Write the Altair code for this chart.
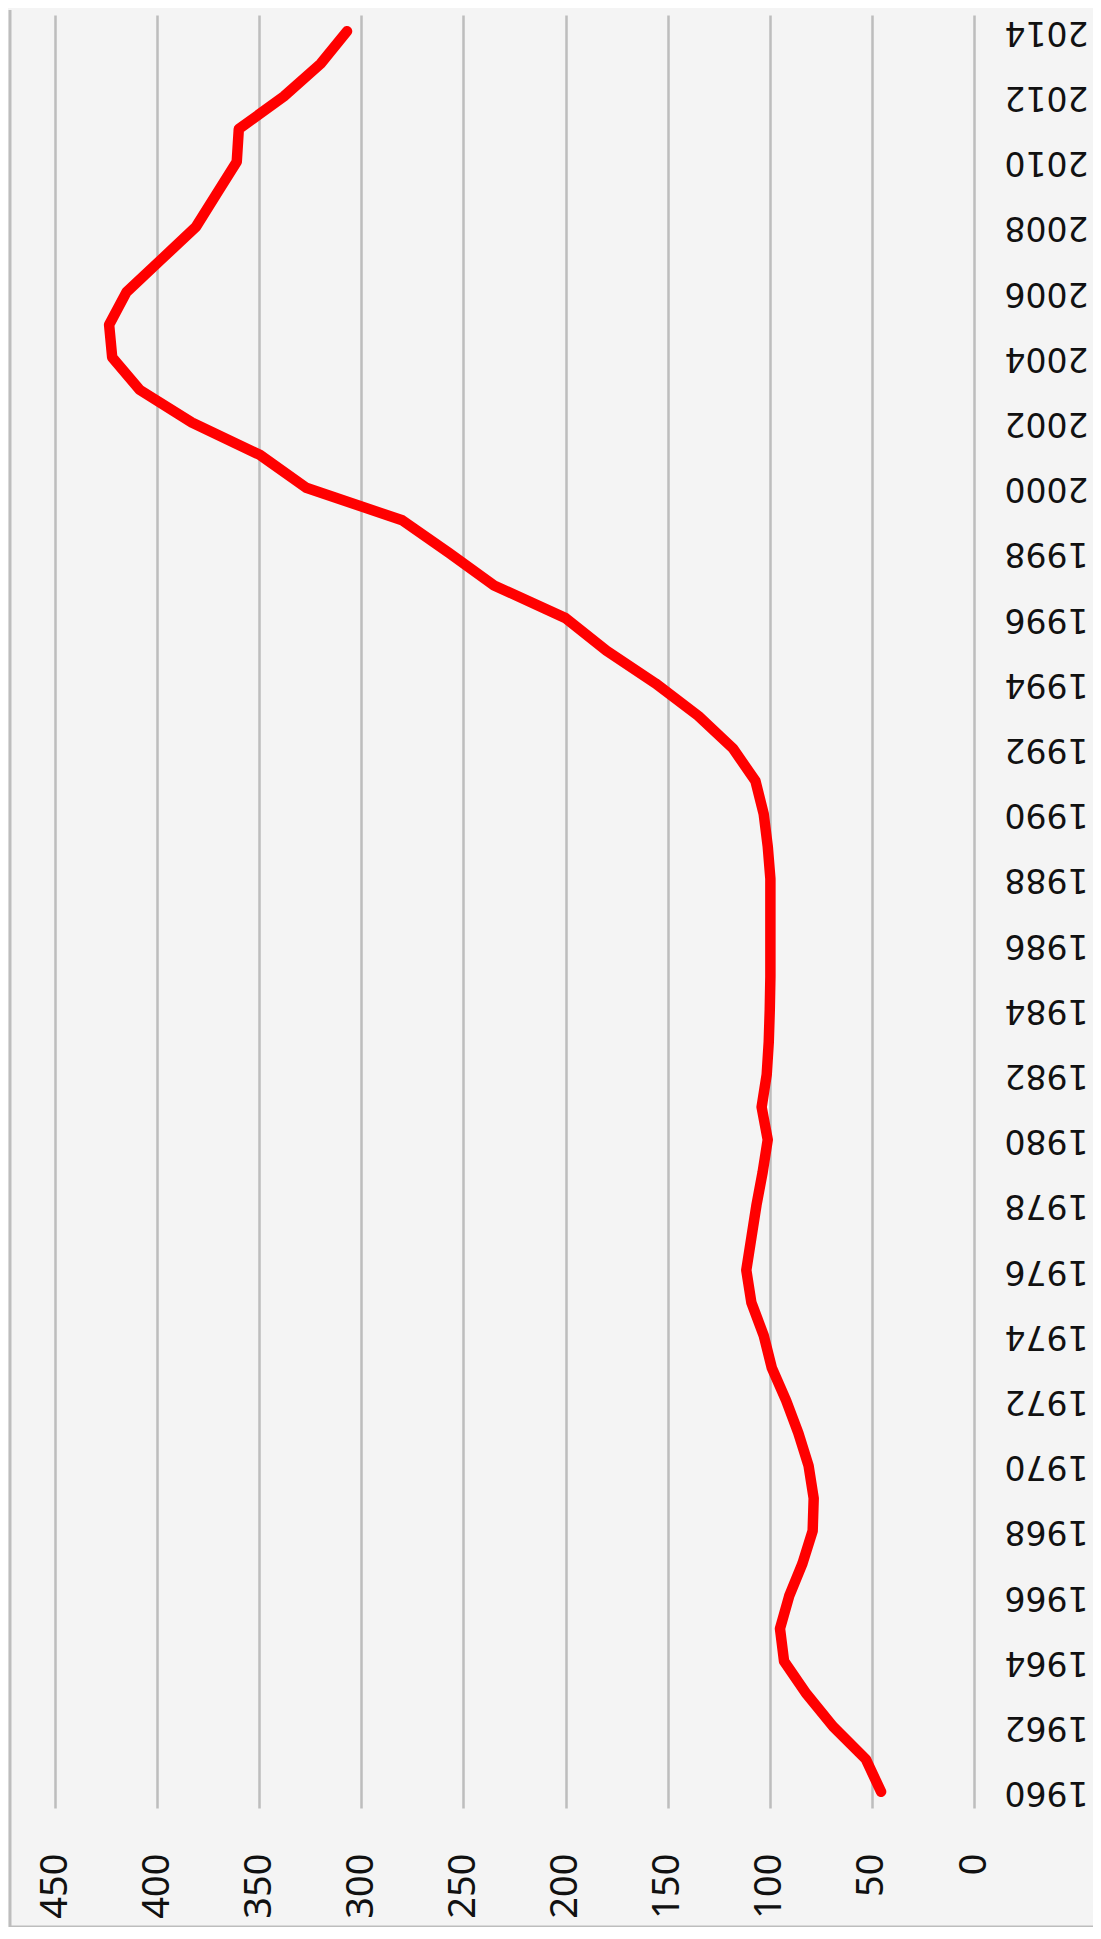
import altair as alt
import pandas as pd

years = list(range(1960, 2015))
values = [
    45.5, 53, 69, 82, 93, 95, 90.5, 84, 79, 78.5,
    81, 86, 92, 99, 103, 109, 111.5, 109, 106.5, 103.5,
    101, 104, 101.5, 100.5, 100, 99.7, 99.7, 99.7, 99.7, 101,
    103, 107, 118, 135, 156, 180, 200, 235, 257, 280,
    327, 349.5, 383, 408.5, 422, 423.5, 415, 398, 381, 371,
    361, 360, 338, 320, 307,
]
value_ticks = list(range(0, 451, 50))
year_ticks = list(range(1960, 2015, 2))

df = pd.DataFrame({"year": years, "value": values})

line = alt.Chart(df).mark_line(
    color="#ff0000", strokeWidth=10.5, strokeCap="round", strokeJoin="round"
).encode(
    x=alt.X(
        "value:Q",
        scale=alt.Scale(domain=[0, 450], reverse=True, nice=False),
        axis=alt.Axis(
            values=value_ticks, grid=True, gridColor="#bdbdbd", gridWidth=2.5,
            domain=False, ticks=False, labelAngle=270, labelAlign="right",
            labelBaseline="middle", labelPadding=45, labelFont="Noto Sans",
            labelFontSize=38, labelColor="#111111", title=None,
            labelFlush=False, labelOverlap=False,
        ),
    ),
    y=alt.Y(
        "year:Q",
        scale=alt.Scale(domain=[1959.5, 2014.5], nice=False, zero=False),
        axis=alt.Axis(
            orient="right", values=year_ticks, format="d", grid=False,
            domain=False, ticks=False, labelAngle=180, labelAlign="right",
            labelBaseline="middle", labelPadding=30, labelFont="DejaVu Sans",
            labelFontSize=33, labelColor="#111111", title=None,
            labelFlush=False, labelOverlap=False,
        ),
    ),
    order="year:Q",
)

border_df = pd.DataFrame({"a": [0]})
left_border = alt.Chart(border_df).mark_rule(color="#bdbdbd", strokeWidth=3).encode(
    x=alt.value(-45), y=alt.value(-5), y2=alt.value(1912)
)
bottom_border = alt.Chart(border_df).mark_rule(color="#bdbdbd", strokeWidth=3).encode(
    x=alt.value(-45), x2=alt.value(1046), y=alt.value(1912)
)

chart = alt.layer(left_border, bottom_border, line).properties(
    width=919,
    height=1793,
    autosize=alt.AutoSizeParams(type="none"),
    padding={"left": 47, "top": 7, "right": 119, "bottom": 119},
    background="#f4f4f4",
).configure_view(stroke="transparent")

chart.save("out.html", embed_options={"renderer": "svg", "actions": False})
